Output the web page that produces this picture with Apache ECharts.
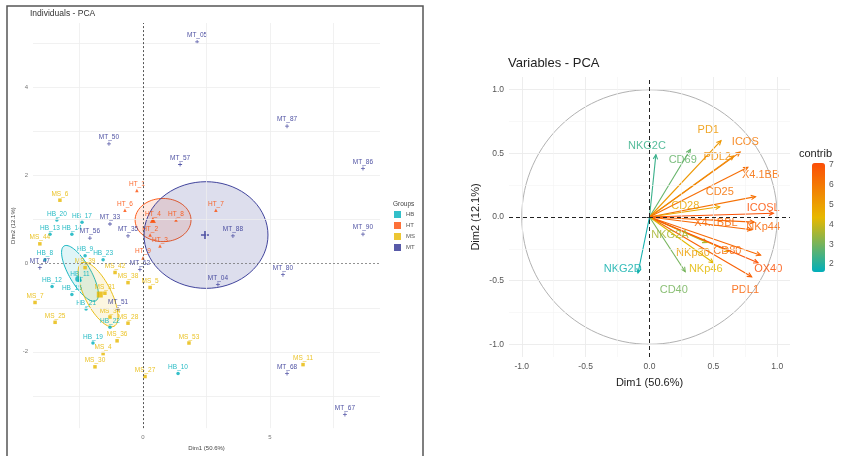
<!DOCTYPE html>
<html><head><meta charset="utf-8">
<script src="https://cdn.jsdelivr.net/npm/echarts@6/dist/echarts.min.js"></script>
<style>html,body{margin:0;padding:0;background:#fff}#c{width:847px;height:456px}</style>
</head><body><div id="c"></div>
<script>
// ===== Individuals - PCA (left panel) =====
const groupNames = ['HB', 'HT', 'MS', 'MT'];

const hbNames = ['HB_20','HB_17','HB_13','HB_14','HB_8','HB_9','HB_23','HB_12','HB_11','HB_15','HB_21','HB_22','HB_19','HB_10'];
const hbX = [-3.39,-2.40,-3.66,-2.80,-3.86,-2.28,-1.57,-3.58,-2.48,-2.80,-2.24,-1.30,-1.97,1.38];
const hbY = [0.99,0.94,0.67,0.67,0.09,0.18,0.09,-0.52,-0.38,-0.70,-1.03,-1.44,-1.80,-2.49];

const htNames = ['HT_1','HT_6','HT_4','HT_8','HT_3','HT_2','HT_9','HT_7'];
const htX = [-0.24,-0.71,0.39,1.30,0.67,0.28,0.00,2.87];
const htY = [1.66,1.21,0.99,0.99,0.40,0.65,0.13,1.21];

const msNames = ['MS_6','MS_44','MS_39','MS_42','MS_5','MS_38','MS_7','MS_31','MS_25','MS_34','MS_28','MS_36','MS_4','MS_30','MS_27','MS_53','MS_11'];
const msX = [-3.27,-4.06,-2.28,-1.10,0.28,-0.59,-4.25,-1.50,-3.46,-1.30,-0.59,-1.02,-1.57,-1.89,0.08,1.81,6.30];
const msY = [1.44,0.45,-0.09,-0.20,-0.54,-0.43,-0.88,-0.67,-1.33,-1.21,-1.35,-1.75,-2.04,-2.34,-2.56,-1.80,-2.29];

const mtNames = ['MT_05','MT_50','MT_57','MT_87','MT_86','MT_90','MT_88','MT_80','MT_04','MT_68','MT_67','MT_47','MT_56','MT_33','MT_35','MT_62','MT_51'];
const mtX = [2.13,-1.34,1.46,5.67,8.66,8.66,3.54,5.51,2.95,5.67,7.95,-4.06,-2.09,-1.30,-0.59,-0.12,-0.98];
const mtY = [5.03,2.72,2.25,3.12,2.16,0.67,0.63,-0.25,-0.47,-2.49,-3.42,-0.09,0.58,0.90,0.63,-0.13,-1.03];

// group mean points
const meanX = [-2.55, 0.39, -1.70, 2.44];
const meanY = [-0.35, 0.99, -0.70, 0.65];

// concentration ellipses: centre, first semi-axis vector, second semi-axis vector
const ellipseHB = [-2.48, -0.22, 0.63, -0.62, 0.36, 0.13];
const ellipseHT = [0.79, 0.99, 1.10, 0.00, 0.00, 0.49];
const ellipseMS = [-1.77, -0.70, 0.63, -0.72, 0.47, 0.13];
const ellipseMT = [2.48, 0.65, 2.44, 0.00, 0.00, 1.21];

const leftXTicks = [0, 5];
const leftYTicks = [-2, 0, 2, 4];
const leftGridX = [-2.5, 2.5, 5, 7.5];
const leftGridY = [-3, -2, -1, 1, 2, 3, 4, 5];

// ===== Variables - PCA (right panel) =====
const varNames = ['NKG2C','CD69','PD1','ICOS','PDL2','X4.1BB','CD25','CD28','ICOSL','NKp44','X4.1BBL','NKG2A','NKp30','CD80','OX40','PDL1','NKp46','CD40','NKG2D'];
const varDim1 = [0.05,0.32,0.56,0.71,0.66,0.77,0.83,0.55,0.97,0.82,0.80,0.45,0.62,0.87,0.85,0.80,0.50,0.28,-0.09];
const varDim2 = [0.49,0.53,0.60,0.51,0.48,0.39,0.16,0.08,0.03,-0.04,-0.10,-0.20,-0.27,-0.30,-0.36,-0.47,-0.36,-0.43,-0.44];
const varContrib = [2.3,2.8,5.2,6.0,5.5,6.3,6.2,4.8,7.0,6.5,6.4,3.6,5.0,6.4,7.0,6.6,4.3,3.0,1.8];
const varLabelDim1 = [-0.02,0.26,0.46,0.75,0.53,0.87,0.55,0.28,0.89,0.89,0.52,0.16,0.34,0.61,0.93,0.75,0.44,0.19,-0.21];
const varLabelDim2 = [0.56,0.45,0.68,0.59,0.47,0.33,0.20,0.09,0.07,-0.08,-0.05,-0.14,-0.28,-0.27,-0.41,-0.57,-0.41,-0.57,-0.41];

const rightTicks = [-1, -0.5, 0, 0.5, 1];
const rightMajor = [-1, -0.5, 0.5, 1];
const rightMinor = [-0.75, -0.25, 0.25, 0.75];
const contribTicks = [2, 3, 4, 5, 6, 7];
const contribMin = 1.6, contribMax = 7.1;

// ===== styling =====
const groupColors = ['#00AFBB', '#FC4E07', '#E7B800', '#2E3192'];
const groupFills = ['rgba(0,175,187,0.12)', 'rgba(252,78,7,0.12)', 'rgba(231,184,0,0.12)', 'rgba(46,49,146,0.16)'];
const groupSymbols = ['circle', 'triangle', 'rect', 'path://M4,0H6V4H10V6H6V10H4V6H0V4H4Z'];

const groupData = [
  [hbNames, hbX, hbY], [htNames, htX, htY], [msNames, msX, msY], [mtNames, mtX, mtY]
];
const ellipses = [ellipseHB, ellipseHT, ellipseMS, ellipseMT];

const series = [];

// left: grid lines + zero lines + ellipses
series.push({
  type: 'custom', xAxisIndex: 0, yAxisIndex: 0, silent: true, z: 1,
  data: ellipses.map((e, i) => ({ value: e, groupIndex: i })),
  renderItem: function (params, api) {
    const i = params.dataIndex;
    const e = ellipses[i];
    const pts = [];
    for (let k = 0; k < 72; k++) {
      const t = k / 72 * Math.PI * 2;
      pts.push(api.coord([e[0] + Math.cos(t) * e[2] + Math.sin(t) * e[4],
                          e[1] + Math.cos(t) * e[3] + Math.sin(t) * e[5]]));
    }
    return { type: 'polygon', shape: { points: pts },
      style: { fill: groupFills[i], stroke: groupColors[i], lineWidth: 0.9 } };
  },
  markLine: {
    silent: true, symbol: 'none', label: { show: false }, animation: false,
    data: leftGridX.map(v => ({ xAxis: v, lineStyle: { color: '#eeeeee', width: 0.8, type: 'solid' } }))
      .concat(leftGridY.map(v => ({ yAxis: v, lineStyle: { color: '#eeeeee', width: 0.8, type: 'solid' } })))
      .concat([{ xAxis: 0, lineStyle: { color: '#555', width: 1, type: [2, 2] } },
               { yAxis: 0, lineStyle: { color: '#777', width: 0.8, type: [2, 2] } }])
  }
});

// left: group points with labels
groupNames.forEach((g, i) => {
  const [names, xs, ys] = groupData[i];
  series.push({
    name: g, type: 'scatter', xAxisIndex: 0, yAxisIndex: 0, z: 3,
    symbol: groupSymbols[i], symbolSize: i === 3 ? 4 : 3.5,
    itemStyle: { color: groupColors[i] },
    label: { show: true, position: 'top', distance: 1, formatter: '{b}',
      fontSize: 6.5, fontFamily: 'Arial', color: groupColors[i], opacity: 0.85 },
    labelLayout: { hideOverlap: false },
    data: names.map((n, k) => ({ name: n, value: [xs[k], ys[k]] }))
  });
});

// left: group mean points
series.push({
  type: 'scatter', xAxisIndex: 0, yAxisIndex: 0, z: 4, silent: true,
  data: groupNames.map((g, i) => ({ name: g, value: [meanX[i], meanY[i]],
    symbol: groupSymbols[i], symbolSize: i === 3 ? 8 : 6,
    itemStyle: { color: groupColors[i] } }))
});

// right: circle, grid lines, zero lines
series.push({
  type: 'custom', xAxisIndex: 1, yAxisIndex: 1, silent: true, z: 1,
  data: [[0, 0]],
  renderItem: function (params, api) {
    const pts = [];
    for (let k = 0; k <= 120; k++) {
      const t = k / 120 * Math.PI * 2;
      pts.push(api.coord([Math.cos(t), Math.sin(t)]));
    }
    return { type: 'polyline', shape: { points: pts }, style: { stroke: '#a8a8a8', lineWidth: 0.9, fill: null } };
  },
  markLine: {
    silent: true, symbol: 'none', label: { show: false }, animation: false,
    data: rightMajor.map(v => ({ xAxis: v, lineStyle: { color: '#ebebeb', width: 0.9, type: 'solid' } }))
      .concat(rightMajor.map(v => ({ yAxis: v, lineStyle: { color: '#ebebeb', width: 0.9, type: 'solid' } })))
      .concat(rightMinor.map(v => ({ xAxis: v, lineStyle: { color: '#f4f4f4', width: 0.6, type: 'solid' } })))
      .concat(rightMinor.map(v => ({ yAxis: v, lineStyle: { color: '#f4f4f4', width: 0.6, type: 'solid' } })))
      .concat([{ xAxis: 0, lineStyle: { color: '#222', width: 1, type: [4, 3] } },
               { yAxis: 0, lineStyle: { color: '#222', width: 1, type: [4, 3] } }])
  }
});

// right: variable arrows coloured by contribution
const arrowSeriesIndex = series.length;
series.push({
  type: 'custom', xAxisIndex: 1, yAxisIndex: 1, z: 3,
  dimensions: ['d1', 'd2', 'contrib', 'l1', 'l2'],
  encode: { x: 0, y: 1 },
  data: varNames.map((n, i) => ({ name: n, value: [varDim1[i], varDim2[i], varContrib[i], varLabelDim1[i], varLabelDim2[i]] })),
  renderItem: function (params, api) {
    const o = api.coord([0, 0]);
    const t = api.coord([api.value(0), api.value(1)]);
    const l = api.coord([api.value(3), api.value(4)]);
    const c = api.visual('color');
    const ang = Math.atan2(t[1] - o[1], t[0] - o[0]);
    const h = 5;
    const p1 = [t[0] - h * Math.cos(ang - 0.45), t[1] - h * Math.sin(ang - 0.45)];
    const p2 = [t[0] - h * Math.cos(ang + 0.45), t[1] - h * Math.sin(ang + 0.45)];
    return { type: 'group', children: [
      { type: 'line', shape: { x1: o[0], y1: o[1], x2: t[0], y2: t[1] }, style: { stroke: c, lineWidth: 1.1 } },
      { type: 'polyline', shape: { points: [p1, t, p2] }, style: { stroke: c, lineWidth: 1.1, fill: null } },
      { type: 'text', x: l[0], y: l[1], z2: 5, style: { text: varNames[params.dataIndex], fill: c, opacity: 0.85,
          font: '11px Arial', align: 'center', verticalAlign: 'middle' } }
    ] };
  }
});

// colour bar axis helper (empty)
series.push({ type: 'scatter', xAxisIndex: 2, yAxisIndex: 2, data: [], silent: true });

const option = {
  animation: false,
  backgroundColor: '#fff',
  title: [
    { text: 'Individuals - PCA', left: 30, top: 9, padding: 0, textStyle: { fontSize: 8.5, fontWeight: 'normal', color: '#333', fontFamily: 'Arial' } },
    { text: 'Variables - PCA', left: 508, top: 57, padding: 0, textStyle: { fontSize: 13, fontWeight: 'normal', color: '#222', fontFamily: 'Arial' } },
    { text: 'contrib', left: 799, top: 148, padding: 0, textStyle: { fontSize: 11, fontWeight: 'normal', color: '#222', fontFamily: 'Arial' } },
    { text: 'Groups', left: 393, top: 201, padding: 0, textStyle: { fontSize: 6.5, fontWeight: 'normal', color: '#444', fontFamily: 'Arial' } }
  ],
  legend: {
    data: groupNames, orient: 'vertical', left: 394, top: 211, padding: 0,
    itemWidth: 7, itemHeight: 7, itemGap: 4, icon: 'rect',
    textStyle: { fontSize: 6, color: '#555', fontFamily: 'Arial' }
  },
  visualMap: {
    type: 'continuous', seriesIndex: arrowSeriesIndex, dimension: 2,
    min: contribMin, max: contribMax, calculable: false, orient: 'vertical',
    left: 812, top: 163, itemWidth: 13, itemHeight: 109, padding: 0,
    text: null, showLabel: false,
    inRange: { color: ['#00AFBB', '#E7B800', '#FC4E07'] }
  },
  grid: [
    { left: 33, top: 23, width: 347, height: 409 },
    { left: 509, top: 77, width: 281, height: 280 },
    { left: 812, top: 163, width: 13, height: 109 }
  ],
  xAxis: [
    { gridIndex: 0, type: 'value', min: -4.33, max: 9.33,
      axisLine: { show: false }, axisTick: { show: false }, splitLine: { show: false },
      axisLabel: { customValues: leftXTicks, fontSize: 6, color: '#777', margin: 6 },
      name: 'Dim1 (50.6%)', nameLocation: 'middle', nameGap: 12,
      nameTextStyle: { fontSize: 6, color: '#444', fontFamily: 'Arial' } },
    { gridIndex: 1, type: 'value', min: -1.1, max: 1.1,
      axisLine: { show: false }, splitLine: { show: false },
      axisTick: { show: true, customValues: rightTicks, length: 3, lineStyle: { color: '#333' } },
      axisLabel: { customValues: rightTicks, fontSize: 8.5, color: '#555', margin: 5, formatter: v => v.toFixed(1) },
      name: 'Dim1 (50.6%)', nameLocation: 'middle', nameGap: 20,
      nameTextStyle: { fontSize: 11, color: '#222', fontFamily: 'Arial' } },
    { gridIndex: 2, type: 'value', show: false }
  ],
  yAxis: [
    { gridIndex: 0, type: 'value', min: -3.73, max: 5.46,
      axisLine: { show: false }, axisTick: { show: false }, splitLine: { show: false },
      axisLabel: { customValues: leftYTicks, fontSize: 6, color: '#777', margin: 5 },
      name: 'Dim2 (12.1%)', nameLocation: 'middle', nameGap: 17,
      nameTextStyle: { fontSize: 6, color: '#444', fontFamily: 'Arial' } },
    { gridIndex: 1, type: 'value', min: -1.1, max: 1.1,
      axisLine: { show: false }, splitLine: { show: false },
      axisTick: { show: true, customValues: rightTicks, length: 3, lineStyle: { color: '#333' } },
      axisLabel: { customValues: rightTicks, fontSize: 8.5, color: '#555', margin: 5, formatter: v => v.toFixed(1) },
      name: 'Dim2 (12.1%)', nameLocation: 'middle', nameGap: 28,
      nameTextStyle: { fontSize: 11, color: '#222', fontFamily: 'Arial' } },
    { gridIndex: 2, type: 'value', min: contribMin, max: contribMax, position: 'right',
      axisLine: { show: false }, splitLine: { show: false },
      axisTick: { show: false },
      axisLabel: { customValues: contribTicks, fontSize: 8.5, color: '#555', margin: 4 } }
  ],
  graphic: [
    { type: 'rect', silent: true, z: 100, shape: { x: 7, y: 6, width: 416, height: 460 },
      style: { fill: null, stroke: '#555', lineWidth: 1.5 } }
  ],
  series: series
};

const chart = echarts.init(document.getElementById('c'), null, { renderer: 'canvas' });
chart.setOption(option);
</script>
</body></html>
